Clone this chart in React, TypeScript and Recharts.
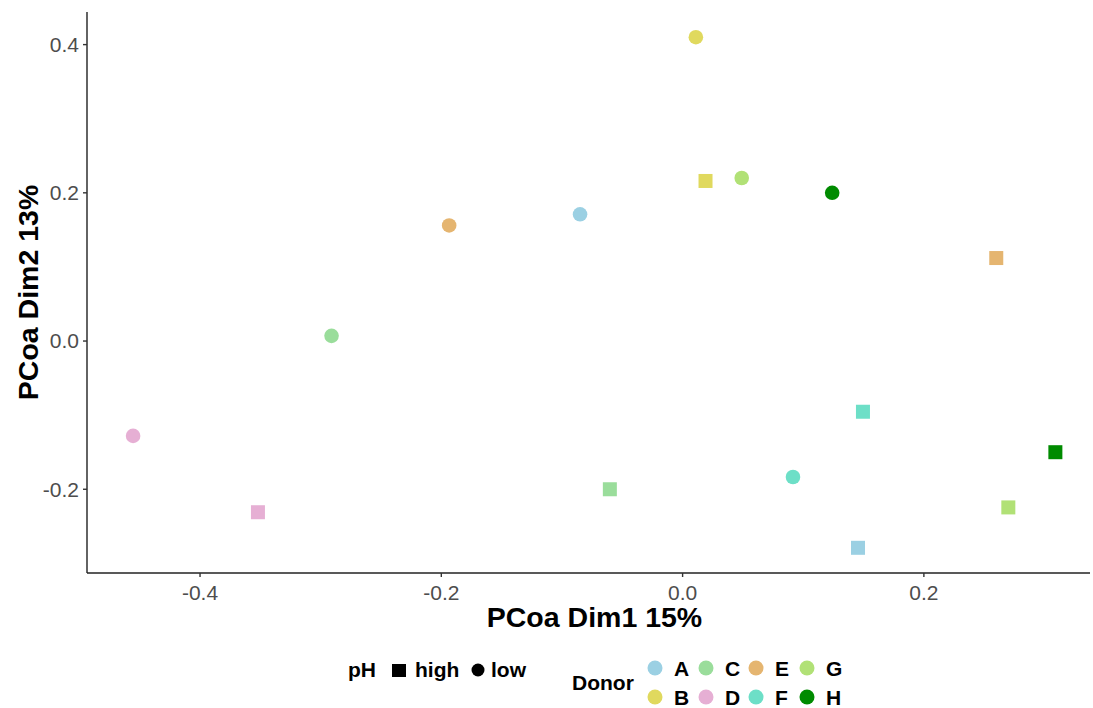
import React from 'react';
import { ScatterChart, Scatter, XAxis, YAxis } from 'recharts';

// donors and their colours
const donors = ['A', 'B', 'C', 'D', 'E', 'F', 'G', 'H'];
const donorColors = ['#9BD0E3', '#E0D95E', '#9ADD9B', '#E6AFD4', '#E5B570', '#6DDFC7', '#B1E176', '#008B00'];

// PCoA coordinates per donor, low pH samples
const lowDim1 = [-0.085, 0.011, -0.291, -0.4555, -0.1935, 0.0915, 0.049, 0.124];
const lowDim2 = [0.171, 0.41, 0.007, -0.128, 0.156, -0.1835, 0.22, 0.2];
// high pH samples
const highDim1 = [0.1454, 0.019, -0.0603, -0.352, 0.26, 0.1495, 0.27, 0.309];
const highDim2 = [-0.279, 0.216, -0.2, -0.231, 0.112, -0.0954, -0.2245, -0.15];

const xTicks = [-0.4, -0.2, 0, 0.2];
const yTicks = [-0.2, 0, 0.2, 0.4];

const FONT = '"Liberation Sans", Arial, Helvetica, sans-serif';

const series = donors.map((d, i) => ({
  donor: d,
  color: donorColors[i],
  points: [
    { dim1: highDim1[i], dim2: highDim2[i], pH: 'high' },
    { dim1: lowDim1[i], dim2: lowDim2[i], pH: 'low' },
  ],
}));

function PointShape(props: any) {
  const { cx, cy, payload, fill } = props;
  if (payload.pH === 'high') {
    return <rect x={cx - 7} y={cy - 7} width={14} height={14} fill={fill} />;
  }
  return <circle cx={cx} cy={cy} r={7.3} fill={fill} />;
}

const tickStyle = { fill: '#4D4D4D', fontSize: 21, fontFamily: FONT };

function Legend() {
  const colX = [655, 706, 756, 807];
  const rowY = [668, 697];
  return (
    <svg width={1093} height={708} style={{ position: 'absolute', left: 0, top: 0, pointerEvents: 'none' }}
      fontFamily={FONT} fontWeight="bold" fontSize={21}>
      <text x={348} y={677}>pH</text>
      <rect x={392} y={664} width={14} height={13} fill="#000" />
      <text x={415} y={677}>high</text>
      <circle cx={478} cy={670} r={6.5} fill="#000" />
      <text x={491} y={677}>low</text>

      <text x={572} y={690}>Donor</text>
      {donors.map((d, i) => {
        const cx = colX[Math.floor(i / 2)];
        const cy = rowY[i % 2];
        return (
          <g key={d}>
            <circle cx={cx} cy={cy} r={7.5} fill={donorColors[i]} />
            <text x={cx + 19} y={cy + 8}>{d}</text>
          </g>
        );
      })}
    </svg>
  );
}

export default function App() {
  return (
    <div style={{ position: 'absolute', left: 0, top: 0, width: 1093, height: 708, background: '#fff' }}>
      <ScatterChart width={1093} height={708} margin={{ top: 12, right: 3, bottom: 75, left: 0 }}>
        <XAxis
          type="number"
          dataKey="dim1"
          domain={[-0.4937, 0.3377]}
          allowDataOverflow
          ticks={xTicks}
          tickFormatter={(v: number) => v.toFixed(1)}
          height={60}
          tick={tickStyle}
          tickSize={4}
          tickMargin={8}
          axisLine={{ stroke: '#222', strokeWidth: 1.4 }}
          tickLine={{ stroke: '#333', strokeWidth: 1.4 }}
          label={{
            content: (p: any) => {
              const vb = p.viewBox;
              return (
                <text x={vb.x + vb.width / 2 + 6} y={vb.y + 54} textAnchor="middle"
                  fontFamily={FONT} fontWeight="bold" fontSize={28.5} fill="#000">
                  PCoa Dim1 15%
                </text>
              );
            },
          }}
        />
        <YAxis
          type="number"
          dataKey="dim2"
          domain={[-0.313, 0.444]}
          allowDataOverflow
          ticks={yTicks}
          tickFormatter={(v: number) => v.toFixed(1)}
          width={87}
          tick={tickStyle}
          tickSize={4}
          tickMargin={4}
          axisLine={{ stroke: '#222', strokeWidth: 1.4 }}
          tickLine={{ stroke: '#333', strokeWidth: 1.4 }}
          label={{
            content: (p: any) => {
              const vb = p.viewBox;
              const cy = vb.y + vb.height / 2;
              return (
                <text x={38} y={cy} textAnchor="middle" transform={`rotate(-90, 38, ${cy})`}
                  fontFamily={FONT} fontWeight="bold" fontSize={28.5} fill="#000">
                  PCoa Dim2 13%
                </text>
              );
            },
          }}
        />
        {series.map((s) => (
          <Scatter key={s.donor} name={s.donor} data={s.points} fill={s.color}
            shape={PointShape} isAnimationActive={false} />
        ))}
      </ScatterChart>
      <Legend />
    </div>
  );
}
